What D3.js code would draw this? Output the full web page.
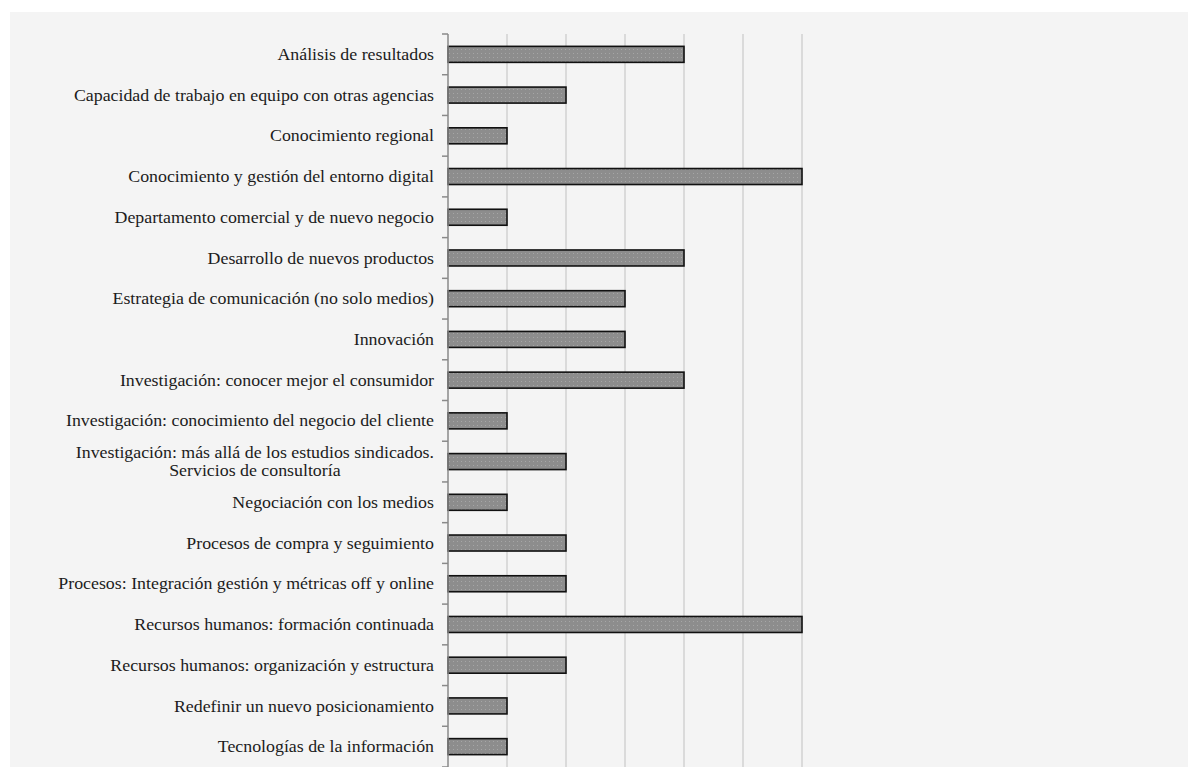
<!DOCTYPE html>
<html>
<head>
<meta charset="utf-8">
<script src="https://cdn.jsdelivr.net/npm/d3@7"></script>
<style>
  body { margin: 0; background: #fff; }
  svg { display: block; }
</style>
</head>
<body>
<div id="chart"></div>
<script>
var width = 1188;
var height = 767;

// categories (top to bottom) and counts
var categories = [
  "Análisis de resultados",
  "Capacidad de trabajo en equipo con otras agencias",
  "Conocimiento regional",
  "Conocimiento y gestión del entorno digital",
  "Departamento comercial y de nuevo negocio",
  "Desarrollo de nuevos productos",
  "Estrategia de comunicación (no solo medios)",
  "Innovación",
  "Investigación: conocer mejor el consumidor",
  "Investigación: conocimiento del negocio del cliente",
  "Investigación: más allá de los estudios sindicados.|Servicios de consultoría",
  "Negociación con los medios",
  "Procesos de compra y seguimiento",
  "Procesos: Integración gestión y métricas off y online",
  "Recursos humanos: formación continuada",
  "Recursos humanos: organización y estructura",
  "Redefinir un nuevo posicionamiento",
  "Tecnologías de la información"
];
var values = [4, 2, 1, 6, 1, 4, 3, 3, 4, 1, 2, 1, 2, 2, 6, 2, 1, 1];
var gridTicks = [0, 1, 2, 3, 4, 5, 6];

var svg = d3.select("#chart")
    .append("svg")
    .attr("width", width)
    .attr("height", height);

// dotted fill for the bars
var pat = svg.append("defs").append("pattern")
    .attr("id", "dots")
    .attr("patternUnits", "userSpaceOnUse")
    .attr("width", 4)
    .attr("height", 4);
pat.append("rect").attr("width", 4).attr("height", 4).attr("fill", "#8d8d8d");
pat.append("rect").attr("x", 1).attr("y", 1).attr("width", 1).attr("height", 1).attr("fill", "#a6a6a6");

// grey page area
svg.append("rect")
    .attr("x", 10).attr("y", 12)
    .attr("width", width - 10).attr("height", height - 12)
    .attr("fill", "#f4f4f4");

var xScale = d3.scaleLinear().domain([0, 6]).range([448, 802]);
var yScale = d3.scaleBand().domain(d3.range(categories.length)).range([34, 767]);

// vertical gridlines
svg.append("g")
    .selectAll("line")
    .data(gridTicks.slice(1))
    .enter()
    .append("line")
    .attr("x1", function(d) { return xScale(d); })
    .attr("x2", function(d) { return xScale(d); })
    .attr("y1", 34)
    .attr("y2", height)
    .attr("stroke", "#d2d2d2")
    .attr("stroke-width", 1.5);

// bars
var barH = 16;
svg.append("g")
    .selectAll("rect")
    .data(values)
    .enter()
    .append("rect")
    .attr("x", xScale(0))
    .attr("y", function(d, i) { return yScale(i) + yScale.bandwidth() / 2 - barH / 2; })
    .attr("width", function(d) { return xScale(d) - xScale(0); })
    .attr("height", barH)
    .attr("fill", "url(#dots)")
    .attr("stroke", "#111")
    .attr("stroke-width", 1.6);

// category axis line + ticks at band boundaries
var axis = svg.append("g");
axis.append("line")
    .attr("x1", xScale(0)).attr("x2", xScale(0))
    .attr("y1", 34).attr("y2", height)
    .attr("stroke", "#8a8a8a").attr("stroke-width", 1.5);
axis.selectAll("line.tick")
    .data(d3.range(categories.length + 1))
    .enter()
    .append("line")
    .attr("class", "tick")
    .attr("x1", xScale(0) - 6).attr("x2", xScale(0))
    .attr("y1", function(i) { return yScale.range()[0] + i * yScale.step(); })
    .attr("y2", function(i) { return yScale.range()[0] + i * yScale.step(); })
    .attr("stroke", "#8a8a8a").attr("stroke-width", 1.5);

// labels (the scanned type is a bit wide, so stretch horizontally)
var labelX = 434;
var stretch = 1.116;
categories.forEach(function(c, i) {
  var lines = c.split("|");
  var cy = yScale(i) + yScale.bandwidth() / 2;
  var t = svg.append("text")
      .attr("transform", "translate(" + labelX + "," + cy + ") scale(" + stretch + ",1)")
      .attr("font-family", "'Liberation Serif', 'Times New Roman', serif")
      .attr("font-size", 16)
      .attr("fill", "#1c1c1c");
  if (lines.length == 1) {
    t.attr("x", 0).attr("y", 0).attr("dy", "0.35em")
     .attr("text-anchor", "end").text(c);
  } else {
    // two lines centred on each other, block right aligned
    t.attr("text-anchor", "middle");
    var first = t.append("tspan").text(lines[0]);
    var w = first.node().getComputedTextLength();
    var mid = -w / 2;
    first.attr("x", mid).attr("y", -9).attr("dy", "0.35em");
    t.append("tspan").text(lines[1]).attr("x", mid).attr("y", 9).attr("dy", "0.35em");
  }
});
</script>
</body>
</html>
